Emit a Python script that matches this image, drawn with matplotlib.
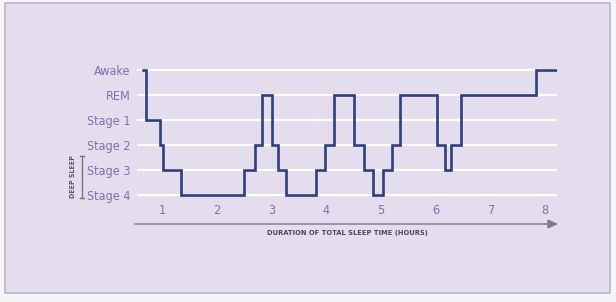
import matplotlib
matplotlib.use("Agg")
import matplotlib.pyplot as plt
from matplotlib.patches import Rectangle, FancyArrowPatch
from matplotlib.lines import Line2D

# ---- data ----
stage_labels = ["Stage 4", "Stage 3", "Stage 2", "Stage 1", "REM", "Awake"]
hour_ticks = [1, 2, 3, 4, 5, 6, 7, 8]
# times (hours) at which the stage changes, and the stage held from that time
change_times = [0.64, 0.70, 0.96, 1.02, 1.34, 2.50, 2.70, 2.83, 3.00, 3.11, 3.26,
                3.81, 3.98, 4.15, 4.51, 4.69, 4.86, 5.03, 5.20, 5.34, 6.03, 6.17,
                6.29, 6.46, 7.83, 8.20]
stages = ["Awake", "Stage 1", "Stage 2", "Stage 3", "Stage 4", "Stage 3",
          "Stage 2", "REM", "Stage 2", "Stage 3", "Stage 4", "Stage 3", "Stage 2",
          "REM", "Stage 2", "Stage 3", "Stage 4", "Stage 3", "Stage 2", "REM",
          "Stage 2", "Stage 3", "Stage 2", "REM", "Awake", "Awake"]
x_title = "DURATION OF TOTAL SLEEP TIME (HOURS)"
deep_label = "DEEP SLEEP"

# ---- style ----
BG = "#e4dded"
LINE = "#2f3f7c"
PURPLE = "#8a6cae"
GRAY = "#8c8894"
FONT = ["DejaVu Sans"]

W, H = 616, 302
fig = plt.figure(figsize=(W / 100, H / 100), dpi=100)
fig.patch.set_facecolor("#f5f4f7")
fig.patches.append(Rectangle((5 / W, 1 - 293 / H), 605 / W, 290 / H,
                             transform=fig.transFigure, facecolor=BG,
                             edgecolor="#b9b5bf", linewidth=1.2, zorder=-5))

x0, x1 = 0.53, 8.22
px0 = 107.6
pph = 54.67
left_px = px0 + pph * x0
right_px = px0 + pph * x1
ax = fig.add_axes([left_px / W, 1 - 200 / H, (right_px - left_px) / W, 135 / H])
ax.set_xlim(x0, x1)
ax.set_ylim(-0.2, 5.2)
ax.patch.set_visible(False)
for s in ax.spines.values():
    s.set_visible(False)

levels = {name: i for i, name in enumerate(stage_labels)}
yvals = [levels[s] for s in stages]

ax.hlines(range(len(stage_labels)), x0, x1, colors="white", linewidth=1.6, zorder=1)
ax.plot(change_times, yvals, drawstyle="steps-post", color=LINE, linewidth=1.9,
        zorder=3, solid_joinstyle="miter")

ax.set_yticks(range(len(stage_labels)))
ax.set_yticklabels(stage_labels)
ax.set_xticks(hour_ticks)
ax.set_xticklabels([str(h) for h in hour_ticks])
ax.tick_params(axis="both", length=0, colors=PURPLE, labelsize=9.1)
ax.tick_params(axis="y", pad=4.5)
ax.tick_params(axis="x", pad=3)
for lab in ax.get_xticklabels() + ax.get_yticklabels():
    lab.set_family(FONT)
    lab.set_stretch("condensed")
    lab.set_weight("normal")
    lab.set_color(PURPLE)

# arrow axis
ay = 1 - 224 / H
fig.add_artist(Line2D([135 / W, 550 / W], [ay, ay], transform=fig.transFigure,
                      color=GRAY, linewidth=1.2))
fig.add_artist(FancyArrowPatch(
    (545 / W, ay), (558 / W, ay), transform=fig.transFigure,
    arrowstyle="-|>,head_length=4,head_width=1.8", color="#7d7985", lw=1.0,
    shrinkA=0, shrinkB=0, mutation_scale=1.5))
fig.text(347 / W, 1 - 233 / H, x_title, ha="center", va="center", fontsize=5.4,
         color="#4b4857", family=FONT, fontweight="bold", fontstretch="condensed")

# deep sleep bracket
fig.text(73 / W, 1 - 177 / H, deep_label, rotation=90, ha="center", va="center",
         fontsize=5.0, color="#5a5664", family=FONT, fontweight="bold",
         fontstretch="condensed")
bx = 81.5 / W
fig.add_artist(Line2D([bx, bx], [1 - 156 / H, 1 - 198 / H], transform=fig.transFigure,
                      color="#77737f", linewidth=1.0))
for py in (156, 198):
    fig.add_artist(Line2D([bx - 2 / W, bx + 2 / W], [1 - py / H, 1 - py / H],
                          transform=fig.transFigure, color="#77737f", linewidth=1.0))

fig.savefig("out.png", dpi=100, facecolor=fig.get_facecolor())
